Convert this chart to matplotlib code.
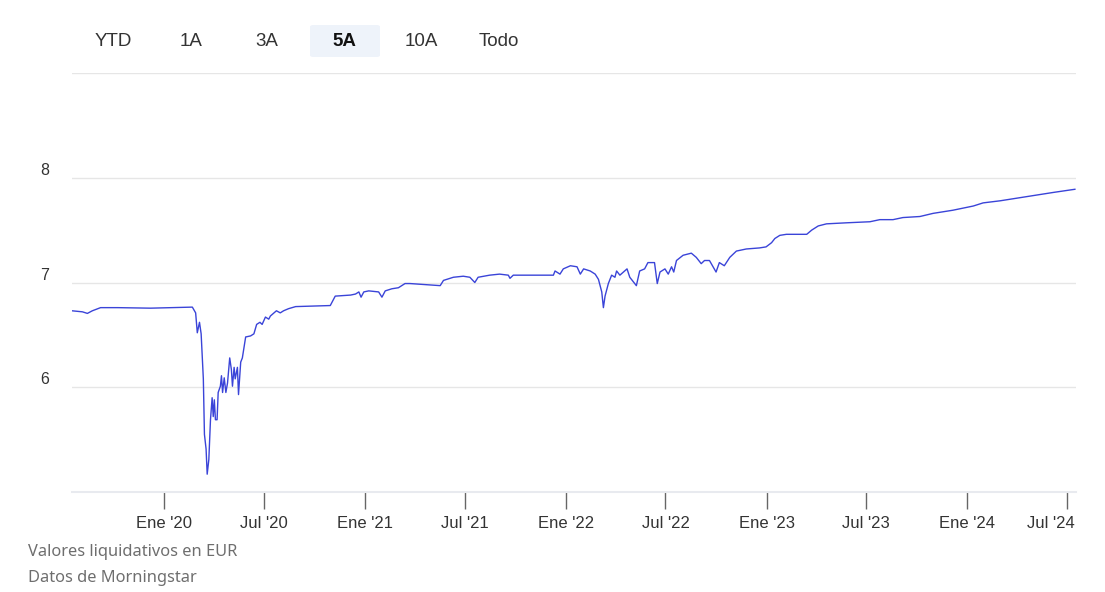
import matplotlib
matplotlib.use("Agg")
import matplotlib.pyplot as plt
import matplotlib.transforms as mtransforms
from matplotlib.patches import FancyBboxPatch
import pandas as pd

# ---- data ----
dates = [
    "2019-07-17", "2019-08-05", "2019-08-14", "2019-08-23", "2019-09-07", "2019-10-08",
    "2019-12-07", "2020-02-21", "2020-02-27", "2020-03-01", "2020-03-05", "2020-03-08",
    "2020-03-12", "2020-03-14", "2020-03-17", "2020-03-19", "2020-03-22", "2020-03-25",
    "2020-03-28", "2020-03-30", "2020-04-01", "2020-04-03", "2020-04-06", "2020-04-08",
    "2020-04-12", "2020-04-14", "2020-04-16", "2020-04-19", "2020-04-22", "2020-04-25",
    "2020-04-29", "2020-05-02", "2020-05-04", "2020-05-07", "2020-05-09", "2020-05-13",
    "2020-05-15", "2020-05-19", "2020-05-22", "2020-05-28", "2020-06-06", "2020-06-12",
    "2020-06-17", "2020-06-23", "2020-06-27", "2020-07-03", "2020-07-09", "2020-07-12",
    "2020-07-23", "2020-07-30", "2020-08-05", "2020-08-14", "2020-08-27", "2020-10-29",
    "2020-11-07", "2020-12-05", "2020-12-14", "2020-12-20", "2020-12-24", "2020-12-29",
    "2021-01-07", "2021-01-25", "2021-01-31", "2021-02-06", "2021-02-18", "2021-03-02",
    "2021-03-14", "2021-03-23", "2021-05-17", "2021-05-23", "2021-06-10", "2021-06-28",
    "2021-07-10", "2021-07-19", "2021-07-25", "2021-08-15", "2021-09-02", "2021-09-18",
    "2021-09-21", "2021-09-27", "2021-11-09", "2021-11-30", "2021-12-09", "2021-12-12",
    "2021-12-21", "2021-12-27", "2022-01-09", "2022-01-21", "2022-01-27", "2022-02-02",
    "2022-02-14", "2022-02-23", "2022-03-01", "2022-03-07", "2022-03-10", "2022-03-13",
    "2022-03-19", "2022-03-25", "2022-03-31", "2022-04-03", "2022-04-09", "2022-04-22",
    "2022-04-27", "2022-05-09", "2022-05-15", "2022-05-24", "2022-05-30", "2022-06-11",
    "2022-06-16", "2022-06-21", "2022-06-30", "2022-07-06", "2022-07-12", "2022-07-16",
    "2022-07-21", "2022-08-02", "2022-08-17", "2022-08-26", "2022-09-04", "2022-09-10",
    "2022-09-19", "2022-10-01", "2022-10-07", "2022-10-16", "2022-10-26", "2022-11-07",
    "2022-11-25", "2022-12-19", "2022-12-31", "2023-01-10", "2023-01-16", "2023-01-25",
    "2023-02-06", "2023-03-15", "2023-03-24", "2023-04-05", "2023-04-20", "2023-05-27",
    "2023-07-08", "2023-07-26", "2023-08-19", "2023-09-06", "2023-10-07", "2023-10-31",
    "2023-12-06", "2024-01-12", "2024-01-30", "2024-03-01", "2024-04-18", "2024-06-06",
    "2024-07-15",
]
nav_values = [
    6.73, 6.72, 6.705, 6.73, 6.76, 6.76,
    6.755, 6.765, 6.71, 6.52, 6.62, 6.51,
    6.08, 5.55, 5.41, 5.17, 5.31, 5.69,
    5.90, 5.72, 5.88, 5.69, 5.69, 5.95,
    6.01, 6.11, 5.95, 6.09, 5.95, 6.04,
    6.28, 6.17, 6.01, 6.19, 6.08, 6.19,
    5.93, 6.24, 6.28, 6.48, 6.49, 6.51,
    6.60, 6.62, 6.60, 6.67, 6.65, 6.68,
    6.73, 6.71, 6.73, 6.75, 6.77, 6.78,
    6.87, 6.88, 6.89, 6.91, 6.86, 6.91,
    6.92, 6.91, 6.86, 6.92, 6.94, 6.95,
    6.99, 6.99, 6.97, 7.02, 7.05, 7.06,
    7.05, 7.00, 7.05, 7.07, 7.08, 7.07,
    7.04, 7.07, 7.07, 7.07, 7.07, 7.11,
    7.08, 7.13, 7.16, 7.15, 7.08, 7.13,
    7.11, 7.08, 7.03, 6.91, 6.76, 6.87,
    6.99, 7.07, 7.05, 7.11, 7.07, 7.13,
    7.05, 6.97, 7.11, 7.13, 7.19, 7.19,
    6.99, 7.10, 7.13, 7.08, 7.15, 7.10,
    7.21, 7.26, 7.28, 7.24, 7.18, 7.21,
    7.21, 7.10, 7.19, 7.16, 7.24, 7.30,
    7.32, 7.33, 7.34, 7.38, 7.42, 7.45,
    7.46, 7.46, 7.50, 7.54, 7.56, 7.57,
    7.58, 7.60, 7.60, 7.62, 7.63, 7.66,
    7.69, 7.73, 7.76, 7.78, 7.82, 7.86,
    7.89,
]
x_ticks = ["2020-01-01", "2020-07-01", "2021-01-01", "2021-07-01", "2022-01-01",
           "2022-07-01", "2023-01-01", "2023-07-01", "2024-01-01", "2024-07-01"]
x_tick_labels = ["Ene '20", "Jul '20", "Ene '21", "Jul '21", "Ene '22",
                 "Jul '22", "Ene '23", "Jul '23", "Ene '24", "Jul '24"]
y_ticks = [6, 7, 8]
range_buttons = ["YTD", "1A", "3A", "5A", "10A", "Todo"]
selected_button = "5A"
footer_lines = ["Valores liquidativos en EUR", "Datos de Morningstar"]

# ---- figure ----
W, H = 1105, 592
fig = plt.figure(figsize=(W / 100, H / 100), dpi=100)
fig.patch.set_facecolor("white")
ax = fig.add_axes([72 / W, 1 - 492 / H, (1076 - 72) / W, (492 - 73) / H])

d = pd.to_datetime(dates)
ax.plot(d, nav_values, color="#3a44d8", linewidth=1.0, solid_joinstyle="round")

ax.set_xlim(pd.Timestamp("2019-07-17"), pd.Timestamp("2024-07-17"))
ax.set_ylim(5, 9)

for s in ["top", "right", "left"]:
    ax.spines[s].set_visible(False)
ax.spines["bottom"].set_color("#e8eaef")
ax.spines["bottom"].set_linewidth(1.5)

# horizontal grid
for yv in [6, 7, 8, 9]:
    ax.axhline(yv, color="#e6e6e6", linewidth=1.0, zorder=0)

ax.set_yticks(y_ticks)
ax.set_yticklabels([str(v) for v in y_ticks], fontsize=11.5, color="#333333",
                   family="Liberation Sans")
ax.tick_params(axis="y", length=0, pad=19.4)
offset = mtransforms.ScaledTranslation(0, 9 / 100, fig.dpi_scale_trans)
for lbl in ax.get_yticklabels():
    lbl.set_transform(lbl.get_transform() + offset)
    lbl.set_horizontalalignment("center")

ax.set_xticks(pd.to_datetime(x_ticks))
ax.set_xticklabels(x_tick_labels, fontsize=12, color="#333333", family="Liberation Sans")
ax.tick_params(axis="x", length=12, width=1.0, color="#666666", pad=5, direction="out")
# last label kept inside the plot width, as in the reference
last = ax.get_xticklabels()[-1]
last.set_horizontalalignment("right")
last.set_transform(last.get_transform() +
                   mtransforms.ScaledTranslation(8 / 100, 0, fig.dpi_scale_trans))

# range buttons
btn_x = [113, 191, 267, 344, 421, 499]
for name, bx in zip(range_buttons, btn_x):
    if name == selected_button:
        fig.patches.append(FancyBboxPatch((310 / W, 1 - 57 / H), 70 / W, 32 / H,
                                          boxstyle="round,pad=0,rounding_size=0.003",
                                          transform=fig.transFigure,
                                          facecolor="#eef3fa", edgecolor="none"))
        fig.text(bx / W, 1 - 42 / H, name, ha="center", va="center", fontsize=13.5,
                 fontweight="bold", color="#111111", family="Liberation Sans")
    else:
        fig.text(bx / W, 1 - 42 / H, name, ha="center", va="center", fontsize=13.5,
                 color="#333333", family="Liberation Sans")

# footer
fig.text(28 / W, 1 - 552 / H, footer_lines[0], ha="left", va="center", fontsize=11.8,
         color="#6e6e6e", family="Noto Sans")
fig.text(28 / W, 1 - 578 / H, footer_lines[1], ha="left", va="center", fontsize=11.8,
         color="#6e6e6e", family="Noto Sans")

fig.savefig("out.png", dpi=100, facecolor="white")
